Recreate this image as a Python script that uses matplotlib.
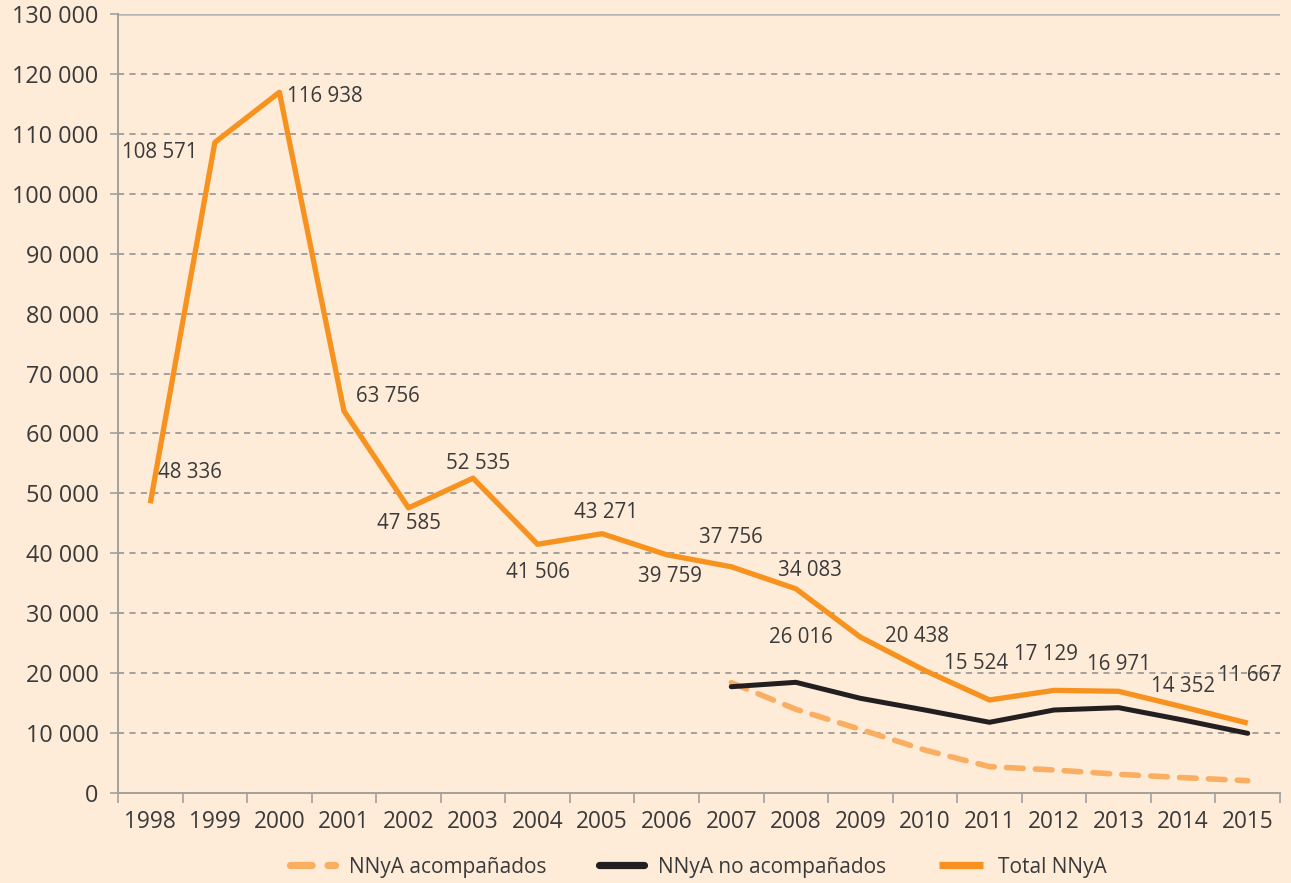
import matplotlib
matplotlib.use("Agg")
import matplotlib.pyplot as plt
from matplotlib.ticker import FuncFormatter

years = [str(y) for y in range(1998, 2016)]
total = [48336, 108571, 116938, 63756, 47585, 52535, 41506, 43271, 39759,
         37756, 34083, 26016, 20438, 15524, 17129, 16971, 14352, 11667]
years_sub = [str(y) for y in range(2007, 2016)]
no_acomp = [17740, 18470, 15800, 13850, 11800, 13850, 14240, 12180, 9960]
acomp = [18410, 13970, 10620, 7170, 4400, 3840, 3120, 2560, 2060]

# label offsets in pixels (dx, dy) relative to each point of total
offsets = [(40, 31), (-55, -10), (45, -4), (44, 14), (0, -16), (5, 15),
           (0, -28), (4, 21), (3, -22), (0, 29), (14, 18), (-60, 0),
           (-8, 34), (-13, 36), (-8, 36), (0, 27), (0, 20), (2, 48)]

bg = "#FEEBD8"
orange = "#F7921E"
light_orange = "#F9AE62"
black = "#231F20"
txt = "#3A3A3A"

plt.rcParams['font.family'] = ['Open Sans', 'DejaVu Sans']

fig = plt.figure(figsize=(12.91, 8.83), dpi=100, facecolor=bg)
ax = fig.add_axes([118/1291, 90/883, (1280-118)/1291, (793-14)/883])
ax.set_facecolor(bg)

xi = list(range(len(years)))
xs = [years.index(y) for y in years_sub]

ax.plot(xs, acomp, color=light_orange, lw=4, ls=(0, (3, 2.2)),
        dash_capstyle='round', solid_capstyle='round', label="NNyA acompañados", zorder=3)
ax.plot(xs, no_acomp, color=black, lw=3.6, solid_capstyle='round',
        label="NNyA no acompañados", zorder=4)
ax.plot(xi, total, color=orange, lw=3.8, solid_capstyle='butt',
        label="Total NNyA", zorder=5)

fmt = lambda v: f"{v:,}".replace(",", " ")
for x, v, (dx, dy) in zip(xi, total, offsets):
    ax.annotate(fmt(v), (x, v), xytext=(dx * 0.72, dy * 0.72),
                textcoords='offset points', ha='center', va='center',
                fontsize=14.8, color=txt, zorder=6)

ax.set_xlim(-0.5, len(years) - 0.5)
ax.set_ylim(0, 130000)
ax.set_yticks(range(0, 130001, 10000))
ax.yaxis.set_major_formatter(FuncFormatter(lambda v, p: fmt(int(v))))
ax.set_xticks(xi)
ax.set_xticklabels(years)
ax.set_xticks([i - 0.5 for i in range(len(years) + 1)], minor=True)
ax.tick_params(axis='x', which='major', length=0, pad=12, labelsize=16.3, labelcolor=txt)
ax.tick_params(axis='x', which='minor', length=7, width=1.2, color="#A0A0A0", direction='out')
ax.tick_params(axis='y', which='major', length=6, width=1.2, color="#A0A0A0",
               labelsize=16.8, labelcolor=txt, pad=8)

for v in range(10000, 130000, 10000):
    ax.axhline(v, color="#8C8C8C", lw=1.1, ls=(0, (4, 3.5)), zorder=1)
ax.axhline(130000, color="#B5B5B5", lw=1.8, zorder=1)

for s in ['top', 'right']:
    ax.spines[s].set_visible(False)
for s in ['left', 'bottom']:
    ax.spines[s].set_color("#A0A0A0")
    ax.spines[s].set_linewidth(1.4)

leg = fig.legend(loc='center', bbox_to_anchor=(0.541, (883-867)/883),
                 ncol=3, frameon=False, handlelength=2.15,
                 columnspacing=2.5, handletextpad=0.7,
                 prop={'size': 15})
for t in leg.get_texts():
    t.set_color(txt)
for h in leg.get_lines():
    h.set_linewidth(5.2)

fig.savefig("out.png", dpi=100, facecolor=bg)
